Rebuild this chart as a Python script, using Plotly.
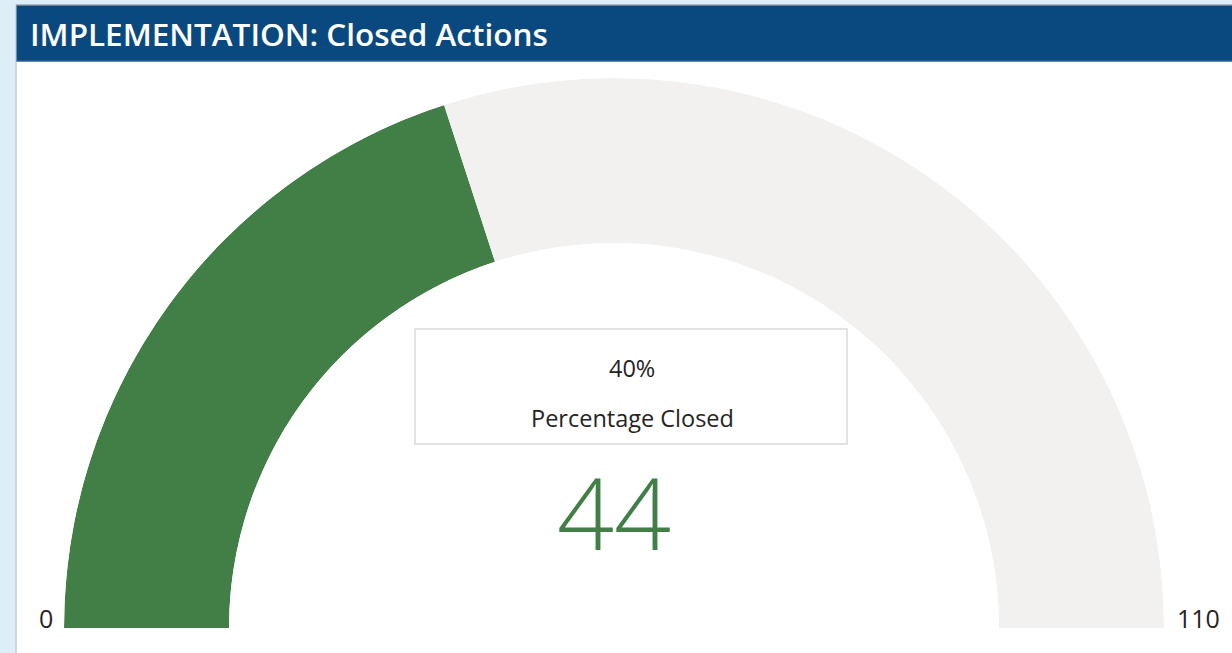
import plotly.graph_objects as go

# ---- data ----
title_text = "IMPLEMENTATION: Closed Actions"
gauge_min = 0
gauge_max = 110
closed_value = 44
segment_labels = ["Closed", "Remaining"]
segment_values = [closed_value, gauge_max - closed_value]
segment_colors = ["#417F46", "#F2F1F0"]
kpi_label = "Percentage Closed"
pct_closed = round(closed_value / gauge_max * 100)

W, H = 1232, 653

def px(x):
    return x / W

def py(y):
    return 1 - y / H

# convert values to degrees along the half circle
thetas, widths = [], []
start = gauge_min
for v in segment_values:
    thetas.append((start + v / 2 - gauge_min) / (gauge_max - gauge_min) * 180)
    widths.append(v / (gauge_max - gauge_min) * 180)
    start += v

fig = go.Figure()
fig.add_trace(go.Barpolar(
    r=[1] * len(segment_values),
    theta=thetas,
    width=widths,
    marker=dict(color=segment_colors, line=dict(width=0)),
    text=segment_labels,
    hoverinfo="text",
    showlegend=False,
))

fig.update_layout(
    width=W, height=H,
    margin=dict(l=0, r=0, t=0, b=0),
    paper_bgcolor="white",
    polar=dict(
        domain=dict(x=[px(64), px(1164)], y=[py(628), py(78)]),
        sector=[0, 180],
        hole=0.70,
        bgcolor="white",
        radialaxis=dict(range=[0, 1], visible=False),
        angularaxis=dict(rotation=180, direction="clockwise", visible=False,
                         showgrid=False, showline=False, showticklabels=False),
    ),
    font=dict(family="Open Sans", color="#252423"),
)

shapes = [
    # light blue page background strips
    dict(type="rect", xref="paper", yref="paper", x0=0, x1=px(15.5), y0=0, y1=1,
         fillcolor="#DEEEF8", line=dict(width=0), layer="below"),
    dict(type="rect", xref="paper", yref="paper", x0=0, x1=1, y0=py(4.5), y1=1,
         fillcolor="#DEEEF8", line=dict(width=0), layer="below"),
    dict(type="line", xref="paper", yref="paper", x0=px(16), x1=px(16), y0=0, y1=py(4.5),
         line=dict(color="#C8C8C8", width=1.5)),
    dict(type="line", xref="paper", yref="paper", x0=px(16), x1=1, y0=py(5), y1=py(5),
         line=dict(color="#A0A4A8", width=1.5)),
    # header bar
    dict(type="rect", xref="paper", yref="paper", x0=px(16.5), x1=1, y0=py(61), y1=py(5.5),
         fillcolor="#0A4880", line=dict(width=0)),
    dict(type="line", xref="paper", yref="paper", x0=px(16.5), x1=1, y0=py(61), y1=py(61),
         line=dict(color="#2C6196", width=1.5)),
    # KPI box
    dict(type="rect", xref="paper", yref="paper", x0=px(415), x1=px(847), y0=py(444), y1=py(329),
         fillcolor="white", line=dict(color="#E2E2E2", width=2)),
]

annotations = [
    dict(text=title_text, x=px(28), y=py(33), xref="paper", yref="paper",
         xanchor="left", yanchor="middle", showarrow=False,
         font=dict(family="Open Sans", size=31.5, color="white", weight=600)),
    dict(text=f"{pct_closed}%", x=px(632), y=py(368), xref="paper", yref="paper",
         xanchor="center", yanchor="middle", showarrow=False,
         font=dict(size=23.5, color="#252423")),
    dict(text=kpi_label, x=px(632), y=py(418), xref="paper", yref="paper",
         xanchor="center", yanchor="middle", showarrow=False,
         font=dict(size=23.5, color="#252423")),
    dict(text=str(closed_value), x=px(614), y=py(511), xref="paper", yref="paper",
         xanchor="center", yanchor="middle", showarrow=False,
         font=dict(family="Open Sans", size=100, color="#417F46", weight=300)),
    dict(text=str(gauge_min), x=px(46), y=py(618), xref="paper", yref="paper",
         xanchor="center", yanchor="middle", showarrow=False,
         font=dict(size=25, color="#252423")),
    dict(text=str(gauge_max), x=px(1198), y=py(618), xref="paper", yref="paper",
         xanchor="center", yanchor="middle", showarrow=False,
         font=dict(size=25, color="#252423")),
]

fig.update_layout(shapes=shapes, annotations=annotations)
fig.write_html("out.html", config={"displayModeBar": False},
               post_script="document.body.style.margin='0';")
